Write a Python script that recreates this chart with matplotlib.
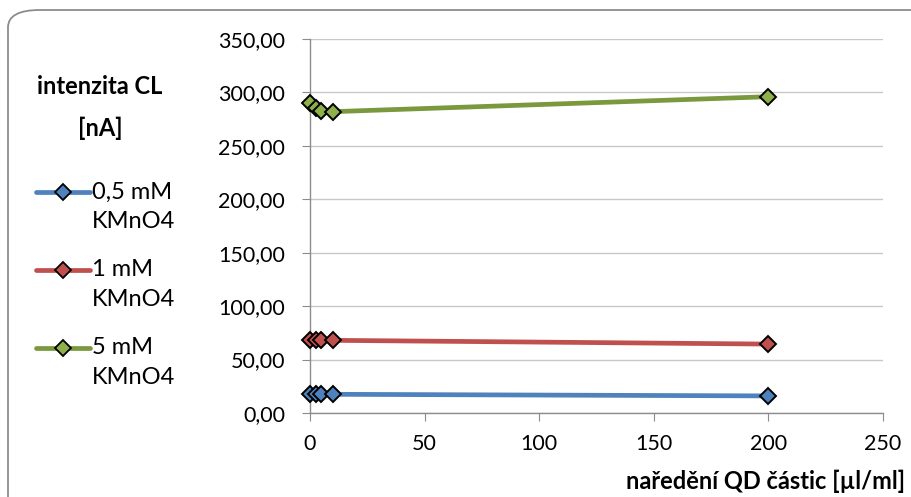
import matplotlib
matplotlib.use("Agg")
import matplotlib.pyplot as plt
from matplotlib.patches import FancyBboxPatch
from matplotlib.lines import Line2D
from matplotlib.ticker import FuncFormatter

plt.rcParams['font.family'] = ['Lato', 'DejaVu Sans']

x_vals = [0, 2.5, 5, 10, 200]
blue_vals = [17.5, 17.5, 17.5, 17.5, 16.0]
red_vals = [68.0, 68.0, 68.0, 68.0, 64.5]
green_vals = [290.5, 285.5, 283.0, 282.0, 296.0]
series_labels = ["0,5 mM\nKMnO4", "1 mM\nKMnO4", "5 mM\nKMnO4"]
line_colors = ["#4F81BD", "#C0504D", "#7A983C"]
marker_colors = ["#4F81BD", "#C0504D", "#8DB04B"]
x_ticks = [0, 50, 100, 150, 200, 250]
y_ticks = [0, 50, 100, 150, 200, 250, 300, 350]

fig = plt.figure(figsize=(9.12, 4.97), dpi=100)
W, H = 912, 497

def fx(px):
    return px / W

def fy(py):
    return 1 - py / H

# chart border (bottom and right edges fall outside the picture)
border = FancyBboxPatch((fx(8), fy(H + 30)), (W + 30) / W, (H + 30 - 10) / H,
                        boxstyle="round,pad=0,rounding_size=0.035",
                        transform=fig.transFigure, fill=False,
                        edgecolor="#8c8c8c", linewidth=1.3, clip_on=False)
fig.patches.append(border)

left, right, top, bottom = 310, 883, 39, 413
ax = fig.add_axes([fx(left), fy(bottom), (right - left) / W, (bottom - top) / H])

for vals, lc, mc in zip([blue_vals, red_vals, green_vals], line_colors, marker_colors):
    ax.plot(x_vals, vals, color=lc, linewidth=3.4, solid_capstyle='round', zorder=3,
            clip_on=False)
    ax.plot(x_vals, vals, linestyle='none', marker='D', markersize=8.5,
            markerfacecolor=mc, markeredgecolor='black', markeredgewidth=1.4, zorder=4,
            clip_on=False)

ax.set_xlim(0, 250)
ax.set_ylim(0, 350)
ax.set_xticks(x_ticks)
ax.set_yticks(y_ticks)
ax.yaxis.set_major_formatter(FuncFormatter(lambda v, p: f"{v:.2f}".replace('.', ',')))
ax.grid(axis='y', color='#c8c8c8', linewidth=1.0)
ax.set_axisbelow(True)
for s in ['top', 'right']:
    ax.spines[s].set_visible(False)
for s in ['left', 'bottom']:
    ax.spines[s].set_color('#8c8c8c')
    ax.spines[s].set_linewidth(1.0)
ax.tick_params(axis='both', which='major', direction='out', length=6, color='#8c8c8c',
               labelsize=15.5, labelcolor='black')
ax.tick_params(axis='y', pad=12)
ax.tick_params(axis='x', pad=9)
ax.patch.set_alpha(0)

# y axis title
fig.text(fx(100), fy(87), "intenzita CL", ha='center', va='center',
         fontsize=17, fontweight='bold')
fig.text(fx(100), fy(128), "[nA]", ha='center', va='center',
         fontsize=17, fontweight='bold')

# x axis title
fig.text(fx(905), fy(481), "naředění QD částic [µl/ml]", ha='right', va='center',
         fontsize=17, fontweight='bold')

# legend (drawn manually to align handle with first text line)
for i, (lab, lc, mc) in enumerate(zip(series_labels, line_colors, marker_colors)):
    yl = 192 + 78 * i
    fig.add_artist(Line2D([fx(36), fx(90)], [fy(yl), fy(yl)], transform=fig.transFigure,
                          color=lc, linewidth=3.4, solid_capstyle='round'))
    fig.add_artist(Line2D([fx(63)], [fy(yl)], transform=fig.transFigure, linestyle='none',
                          marker='D', markersize=8, markerfacecolor=mc,
                          markeredgecolor='black', markeredgewidth=1.3))
    l1, l2 = lab.split("\n")
    fig.text(fx(92), fy(yl), l1, ha='left', va='center', fontsize=17)
    fig.text(fx(92), fy(yl + 30), l2, ha='left', va='center', fontsize=17)

fig.savefig("out.png", dpi=100)
